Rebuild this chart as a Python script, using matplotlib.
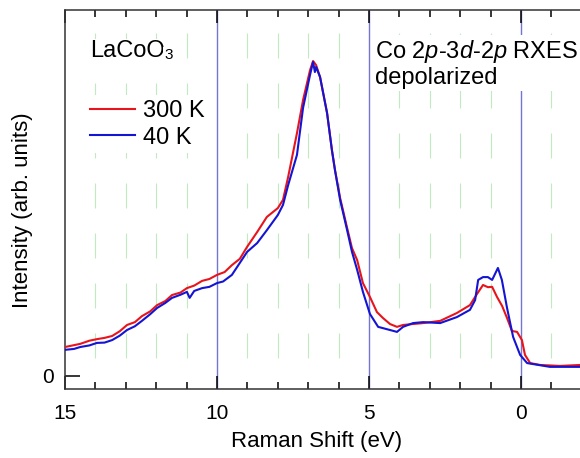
import matplotlib
matplotlib.use('Agg')
import matplotlib.pyplot as plt
import numpy as np

# Raman shift (eV) and intensity (arb. units, peak ~ 1)
shift_300K = [15.0, 14.7, 14.5, 14.2, 13.95, 13.7, 13.45, 13.2, 12.96, 12.7,
              12.47, 12.2, 11.97, 11.7, 11.48, 11.2, 10.99, 10.75, 10.49, 10.25,
              10.0, 9.75, 9.51, 9.25, 9.01, 8.68, 8.36, 8.0, 7.83, 7.66, 7.37, 7.17,
              6.94, 6.84, 6.74, 6.61, 6.38, 6.22, 6.12, 5.95, 5.72, 5.56,
              5.39, 5.2, 4.97, 4.74, 4.54, 4.31, 4.08, 3.88, 3.55, 3.22,
              2.66, 2.11, 1.68, 1.45, 1.25, 1.09, 0.95, 0.79, 0.62, 0.46,
              0.3, 0.13, -0.03, -0.13, -0.3, -0.63, -1.28, -1.94]
int_300K = [0.092, 0.098, 0.102, 0.112, 0.117, 0.121, 0.127, 0.142, 0.162, 0.171,
            0.19, 0.205, 0.225, 0.238, 0.257, 0.265, 0.279, 0.287, 0.302, 0.308,
            0.321, 0.33, 0.352, 0.372, 0.41, 0.457, 0.505, 0.533, 0.559, 0.632, 0.771, 0.876,
            0.971, 1.0, 0.987, 0.949, 0.835, 0.717, 0.654, 0.565, 0.47, 0.406,
            0.368, 0.295, 0.251, 0.203, 0.184, 0.165, 0.156, 0.162, 0.165, 0.168,
            0.175, 0.2, 0.225, 0.26, 0.289, 0.282, 0.283, 0.251, 0.222, 0.184,
            0.143, 0.14, 0.114, 0.067, 0.041, 0.035, 0.032, 0.035]

shift_40K = [15.0, 14.7, 14.5, 14.2, 13.95, 13.7, 13.45, 13.2, 12.96, 12.7,
             12.47, 12.2, 11.97, 11.7, 11.48, 11.2, 10.99, 10.9, 10.75, 10.49,
             10.25, 10.0, 9.8, 9.51, 9.01, 8.68, 8.36, 8.0, 7.83, 7.66, 7.37, 7.17,
             6.94, 6.84, 6.78, 6.74, 6.61, 6.38, 6.22, 6.12, 5.95, 5.72, 5.56,
             5.39, 5.2, 4.97, 4.7, 4.31, 4.08, 3.88, 3.55, 3.22, 2.66,
             2.11, 1.68, 1.51, 1.41, 1.25, 1.09, 0.95, 0.76, 0.63, 0.46,
             0.26, 0.03, -0.2, -0.95, -1.94]
int_40K = [0.083, 0.086, 0.092, 0.097, 0.105, 0.106, 0.114, 0.128, 0.146, 0.158,
           0.175, 0.196, 0.216, 0.232, 0.248, 0.258, 0.267, 0.248, 0.27, 0.279,
           0.283, 0.295, 0.3, 0.321, 0.394, 0.422, 0.463, 0.511, 0.543, 0.606, 0.702, 0.851,
           0.956, 0.997, 0.965, 0.981, 0.949, 0.835, 0.717, 0.654, 0.559, 0.463, 0.394,
           0.337, 0.267, 0.197, 0.156, 0.146, 0.14, 0.156, 0.168, 0.171, 0.168,
           0.187, 0.21, 0.241, 0.305, 0.314, 0.314, 0.305, 0.343, 0.305, 0.216,
           0.124, 0.067, 0.041, 0.029, 0.029]

major_x = [15, 10, 5, 0]
minor_x = [14, 13, 12, 11, 9, 8, 7, 6, 4, 3, 2, 1, -1]

plt.rcParams['font.family'] = ['Liberation Sans', 'DejaVu Sans']
plt.rcParams['mathtext.fontset'] = 'custom'
plt.rcParams['mathtext.rm'] = 'Liberation Sans'
plt.rcParams['mathtext.it'] = 'Liberation Sans:italic'

fig = plt.figure(figsize=(5.8, 4.58), dpi=100)
ax = fig.add_axes([65 / 580, 69 / 458, 515 / 580, 379 / 458])

ylo, yhi = -0.0413, 1.162
ax.set_xlim(15, -1.94)
ax.set_ylim(ylo, yhi)

# faint green dashed minor grid, drawn top to bottom
for xm in minor_x:
    ax.plot([xm, xm], [yhi, 0], color='#c2eac2', lw=0.8,
            linestyle=(24.3, (22.5, 22.5)), zorder=1)
# blue major grid
for xm in major_x[1:]:
    ax.axvline(xm, color='#7474d4', lw=1, zorder=1.5)

ax.plot(shift_300K, int_300K, color='#e8141c', lw=1.5, label='300 K', zorder=3)
ax.plot(shift_40K, int_40K, color='#1414d2', lw=1.5, label='40 K', zorder=4)

ax.set_xticks(major_x)
ax.set_xticks(minor_x, minor=True)
ax.set_yticks([0])
ax.tick_params(axis='x', which='major', direction='in', length=9.4, width=1.1,
               top=True, labelsize=15, pad=11)
ax.tick_params(axis='x', which='minor', direction='in', length=5, width=1.1, top=True)
ax.tick_params(axis='y', which='major', direction='in', length=10.8, width=1.1,
               labelsize=15, pad=8)
for side in ['left', 'bottom', 'top']:
    ax.spines[side].set_linewidth(1.1)
    ax.spines[side].set_color('#333333')
ax.spines['right'].set_visible(False)

fig.text(317 / 580, 1 - 441 / 458, 'Raman Shift (eV)', ha='center', va='center', fontsize=16)
fig.text(23 / 580, 1 - 210 / 458, 'Intensity (arb. units)', ha='center', va='center',
         rotation=90, fontsize=16)

box = dict(facecolor='white', edgecolor='none', pad=1)
t = ax.text(0.0485, 0.876, 'LaCoO', transform=ax.transAxes, fontsize=17,
            va='baseline', bbox=box, zorder=5)
ax.annotate('3', xy=(1, 0), xycoords=t, fontsize=11, va='bottom', ha='left',
            bbox=box, zorder=5)
ax.text(0.602, 0.925, 'Co 2$\\mathit{p}$-3$\\mathit{d}$-2$\\mathit{p}$ RXES\ndepolarized',
        transform=ax.transAxes, fontsize=17, va='top', ha='left', linespacing=1.1,
        bbox=box, zorder=5)

leg = ax.legend(loc='upper left', bbox_to_anchor=(0.039, 0.775), fontsize=17,
                handlelength=1.9, handletextpad=0.35, labelspacing=0.2,
                borderpad=0.2, borderaxespad=0, frameon=True, fancybox=False,
                facecolor='white', edgecolor='none', framealpha=1)
leg.set_zorder(5)

fig.savefig('out.png', dpi=100)
